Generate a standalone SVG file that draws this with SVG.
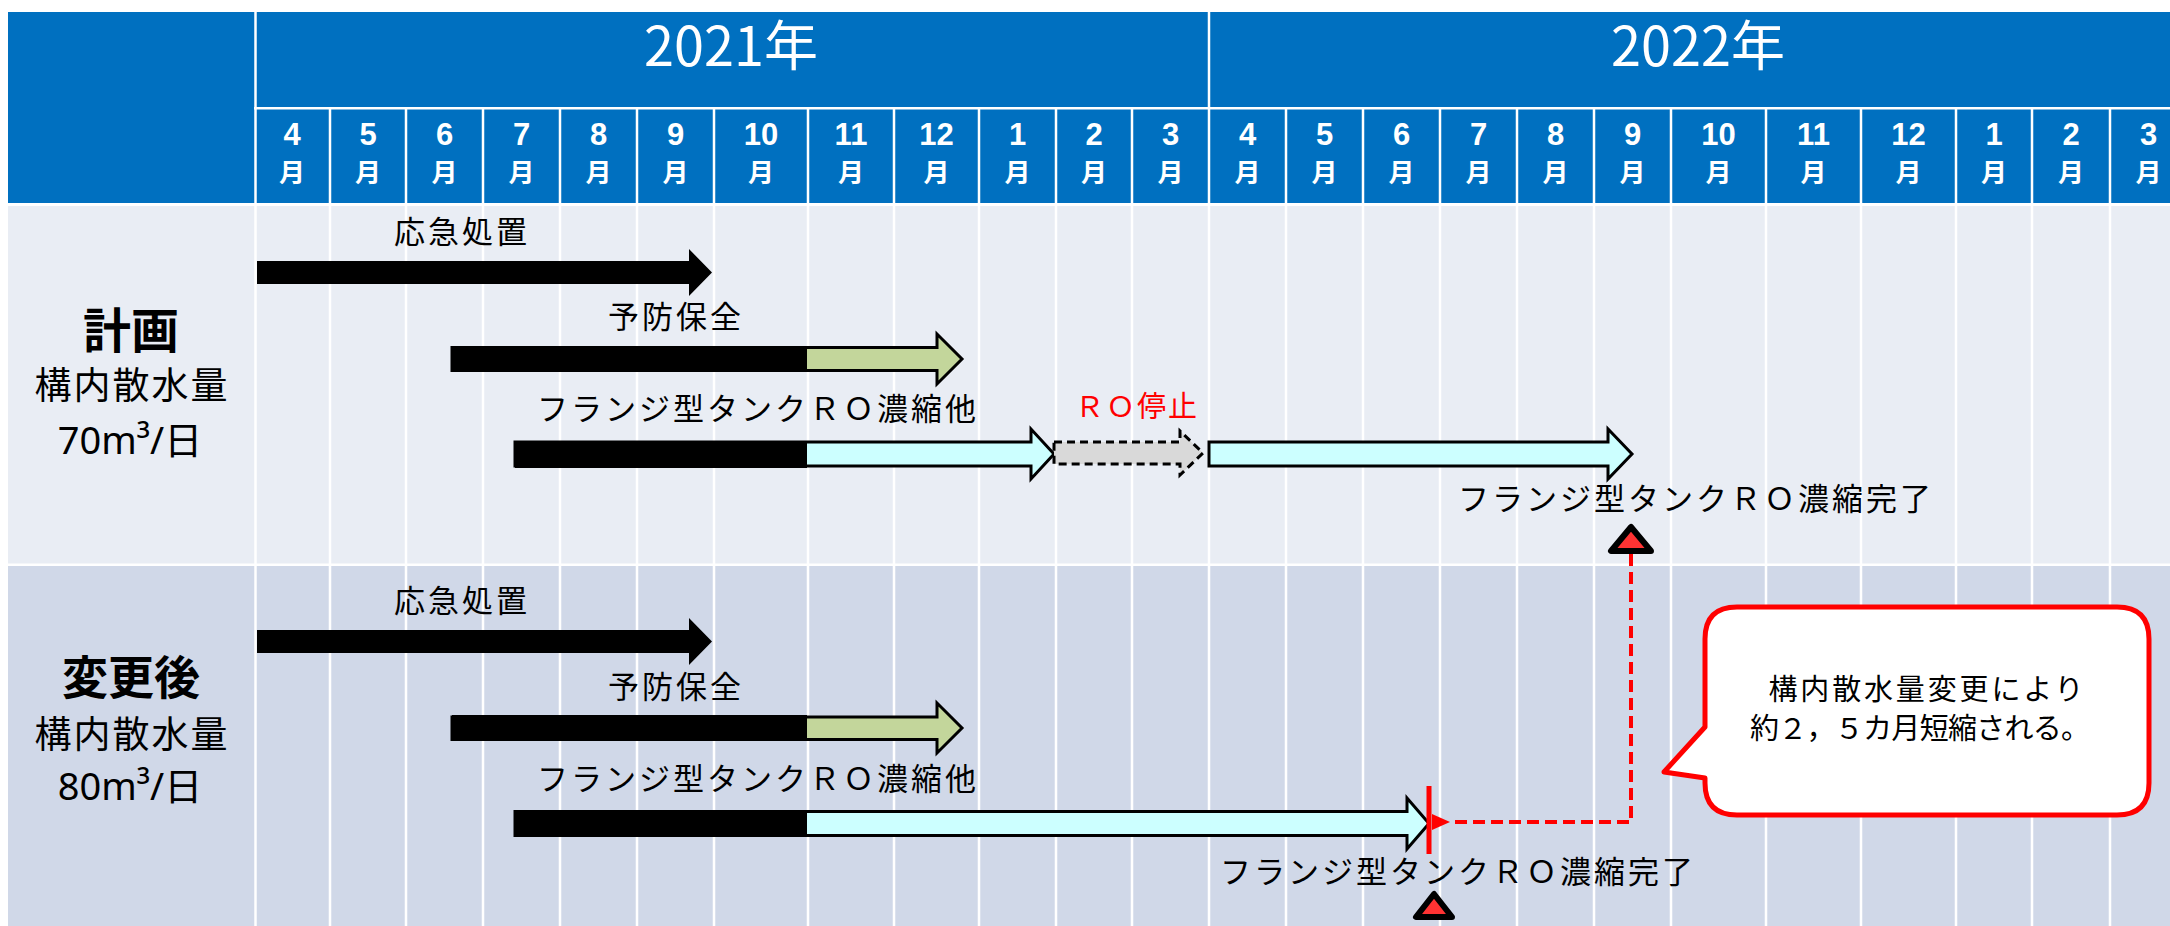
<svg xmlns="http://www.w3.org/2000/svg" width="2170" height="926" viewBox="0 0 2170 926">
<defs>
<style>
text{font-family:"Noto Sans CJK JP","Noto Sans",sans-serif;}
.yr{fill:#fff;font-size:54px;text-anchor:middle;}
.mn{fill:#fff;font-family:"Liberation Sans","DejaVu Sans",sans-serif;font-size:31px;font-weight:bold;text-anchor:middle;}
.mj{fill:#fff;font-size:26px;font-weight:bold;text-anchor:middle;}
.grid line{stroke:#fff;stroke-width:2.5;}
.ttl{font-size:48px;font-weight:bold;text-anchor:middle;fill:#000;}
.sub{font-size:37px;text-anchor:middle;fill:#000;letter-spacing:2px;}
.num{font-size:38px;text-anchor:middle;fill:#000;}
.lat{font-family:"Noto Sans",sans-serif;}
.lbl{font-size:31px;text-anchor:middle;fill:#000;letter-spacing:3px;}
.red{font-size:29px;text-anchor:middle;fill:#FF0000;letter-spacing:2px;}
.co{font-size:29px;text-anchor:middle;fill:#000;}
.blk{fill:#000;}
.grn{fill:#C3D69B;stroke:#000;stroke-width:3;stroke-linejoin:miter;}
.cyn{fill:#CCFFFF;stroke:#000;stroke-width:3;stroke-linejoin:miter;}
.gry{fill:#D9D9D9;stroke:#000;stroke-width:3;stroke-dasharray:8 5;}
.tri{fill:#FF3333;stroke:#000;stroke-width:6;stroke-linejoin:round;}
</style>
<marker id="ah" markerUnits="userSpaceOnUse" markerWidth="20" markerHeight="18" refX="0" refY="8" orient="auto-start-reverse" viewBox="0 0 20 16">
<path d="M0,8 L18,0 L18,16 Z" fill="#FF0000"/>
</marker>
</defs>

<rect x="0" y="0" width="2170" height="926" fill="#fff"/>

<g id="header">
<rect x="8" y="12" width="2162" height="191" fill="#0070C0"/>
<rect x="254" y="107" width="1916" height="2.5" fill="#fff"/>
<g class="grid">
<line x1="255.5" y1="12" x2="255.5" y2="203"/>
<line x1="1209" y1="12" x2="1209" y2="203"/>
<line x1="330" y1="109" x2="330" y2="203"/>
<line x1="406" y1="109" x2="406" y2="203"/>
<line x1="483" y1="109" x2="483" y2="203"/>
<line x1="560" y1="109" x2="560" y2="203"/>
<line x1="637" y1="109" x2="637" y2="203"/>
<line x1="714" y1="109" x2="714" y2="203"/>
<line x1="808" y1="109" x2="808" y2="203"/>
<line x1="894" y1="109" x2="894" y2="203"/>
<line x1="979" y1="109" x2="979" y2="203"/>
<line x1="1056" y1="109" x2="1056" y2="203"/>
<line x1="1132" y1="109" x2="1132" y2="203"/>
<line x1="1286" y1="109" x2="1286" y2="203"/>
<line x1="1363" y1="109" x2="1363" y2="203"/>
<line x1="1440" y1="109" x2="1440" y2="203"/>
<line x1="1517" y1="109" x2="1517" y2="203"/>
<line x1="1594" y1="109" x2="1594" y2="203"/>
<line x1="1671" y1="109" x2="1671" y2="203"/>
<line x1="1766" y1="109" x2="1766" y2="203"/>
<line x1="1861" y1="109" x2="1861" y2="203"/>
<line x1="1956" y1="109" x2="1956" y2="203"/>
<line x1="2032" y1="109" x2="2032" y2="203"/>
<line x1="2110" y1="109" x2="2110" y2="203"/>
</g>
<text class="yr" x="731" y="66">2021年</text>
<text class="yr" x="1698" y="66">2022年</text>
<g id="months-num">
<text class="mn" x="292" y="145">4</text>
<text class="mn" x="368" y="145">5</text>
<text class="mn" x="444.5" y="145">6</text>
<text class="mn" x="521.5" y="145">7</text>
<text class="mn" x="598.5" y="145">8</text>
<text class="mn" x="675.5" y="145">9</text>
<text class="mn" x="761" y="145">10</text>
<text class="mn" x="851" y="145">11</text>
<text class="mn" x="936.5" y="145">12</text>
<text class="mn" x="1017.5" y="145">1</text>
<text class="mn" x="1094" y="145">2</text>
<text class="mn" x="1170.5" y="145">3</text>
<text class="mn" x="1247.5" y="145">4</text>
<text class="mn" x="1324.5" y="145">5</text>
<text class="mn" x="1401.5" y="145">6</text>
<text class="mn" x="1478.5" y="145">7</text>
<text class="mn" x="1555.5" y="145">8</text>
<text class="mn" x="1632.5" y="145">9</text>
<text class="mn" x="1718.5" y="145">10</text>
<text class="mn" x="1813.5" y="145">11</text>
<text class="mn" x="1908.5" y="145">12</text>
<text class="mn" x="1994" y="145">1</text>
<text class="mn" x="2071" y="145">2</text>
<text class="mn" x="2148.5" y="145">3</text>
</g>
<g id="months-kanji">
<text class="mj" x="292" y="182">月</text>
<text class="mj" x="368" y="182">月</text>
<text class="mj" x="444.5" y="182">月</text>
<text class="mj" x="521.5" y="182">月</text>
<text class="mj" x="598.5" y="182">月</text>
<text class="mj" x="675.5" y="182">月</text>
<text class="mj" x="761" y="182">月</text>
<text class="mj" x="851" y="182">月</text>
<text class="mj" x="936.5" y="182">月</text>
<text class="mj" x="1017.5" y="182">月</text>
<text class="mj" x="1094" y="182">月</text>
<text class="mj" x="1170.5" y="182">月</text>
<text class="mj" x="1247.5" y="182">月</text>
<text class="mj" x="1324.5" y="182">月</text>
<text class="mj" x="1401.5" y="182">月</text>
<text class="mj" x="1478.5" y="182">月</text>
<text class="mj" x="1555.5" y="182">月</text>
<text class="mj" x="1632.5" y="182">月</text>
<text class="mj" x="1718.5" y="182">月</text>
<text class="mj" x="1813.5" y="182">月</text>
<text class="mj" x="1908.5" y="182">月</text>
<text class="mj" x="1994" y="182">月</text>
<text class="mj" x="2071" y="182">月</text>
<text class="mj" x="2148.5" y="182">月</text>
</g>
</g>

<g id="body-grid">
<rect x="8" y="206" width="2162" height="357.5" fill="#E9EDF4"/>
<rect x="8" y="566" width="2162" height="360" fill="#D0D8E8"/>
<g class="grid">
<line x1="255.5" y1="203" x2="255.5" y2="926"/>
<line x1="330" y1="203" x2="330" y2="926"/>
<line x1="406" y1="203" x2="406" y2="926"/>
<line x1="483" y1="203" x2="483" y2="926"/>
<line x1="560" y1="203" x2="560" y2="926"/>
<line x1="637" y1="203" x2="637" y2="926"/>
<line x1="714" y1="203" x2="714" y2="926"/>
<line x1="808" y1="203" x2="808" y2="926"/>
<line x1="894" y1="203" x2="894" y2="926"/>
<line x1="979" y1="203" x2="979" y2="926"/>
<line x1="1056" y1="203" x2="1056" y2="926"/>
<line x1="1132" y1="203" x2="1132" y2="926"/>
<line x1="1209" y1="203" x2="1209" y2="926"/>
<line x1="1286" y1="203" x2="1286" y2="926"/>
<line x1="1363" y1="203" x2="1363" y2="926"/>
<line x1="1440" y1="203" x2="1440" y2="926"/>
<line x1="1517" y1="203" x2="1517" y2="926"/>
<line x1="1594" y1="203" x2="1594" y2="926"/>
<line x1="1671" y1="203" x2="1671" y2="926"/>
<line x1="1766" y1="203" x2="1766" y2="926"/>
<line x1="1861" y1="203" x2="1861" y2="926"/>
<line x1="1956" y1="203" x2="1956" y2="926"/>
<line x1="2032" y1="203" x2="2032" y2="926"/>
<line x1="2110" y1="203" x2="2110" y2="926"/>
</g>
</g>

<g id="label-plan">
<text class="ttl" x="131" y="348">計画</text>
<text class="sub" x="132" y="399">構内散水量</text>
<text class="num" x="130" y="454"><tspan class="lat">70m³/</tspan>日</text>
</g>
<g id="label-after">
<text class="ttl" x="131" y="694" style="font-size:46px">変更後</text>
<text class="sub" x="132" y="748">構内散水量</text>
<text class="num" x="130" y="800"><tspan class="lat">80m³/</tspan>日</text>
</g>

<g id="plan-emergency">
<path class="blk" d="M257,261 H689 V249 L712,272.5 L689,296 V284 H257 Z"/>
<text class="lbl" x="462" y="243">応急処置</text>
</g>
<g id="plan-preventive">
<path class="grn" d="M452,347.5 H937 V334 L962,359 L937,384 V370.5 H452 Z"/>
<rect class="blk" x="452" y="346" width="355" height="26"/>
<text class="lbl" x="676" y="328">予防保全</text>
</g>
<g id="plan-ro">
<path class="cyn" d="M515,442 H1031 V429 L1054,454 L1031,479 V466 H515 Z"/>
<rect class="blk" x="515" y="441" width="292" height="27"/>
<text class="lbl" x="758" y="420">フランジ型タンクＲＯ濃縮他</text>
</g>
<g id="plan-ro-stop">
<path class="gry" d="M1054,442 H1180 V431 L1203,453 L1180,475 V464 H1054 Z"/>
<text class="red" x="1137" y="417">ＲＯ停止</text>
</g>
<g id="plan-ro2">
<path class="cyn" d="M1209,442 H1608 V429 L1632,454 L1608,479 V466 H1209 Z"/>
<text class="lbl" x="1696" y="510">フランジ型タンクＲＯ濃縮完了</text>
</g>
<g id="plan-milestone">
<path class="tri" d="M1631,527 L1611,551 L1651,551 Z"/>
</g>

<g id="after-emergency">
<path class="blk" d="M257,630 H689 V618 L712,641.5 L689,665 V653 H257 Z"/>
<text class="lbl" x="462" y="612">応急処置</text>
</g>
<g id="after-preventive">
<path class="grn" d="M452,717 H937 V703 L962,728 L937,753 V739.5 H452 Z"/>
<rect class="blk" x="452" y="715" width="355" height="26"/>
<text class="lbl" x="676" y="698">予防保全</text>
</g>
<g id="after-ro">
<path class="cyn" d="M515,811.5 H1407 V798 L1429,823.5 L1407,849 V835.5 H515 Z"/>
<rect class="blk" x="515" y="810" width="292" height="27"/>
<text class="lbl" x="758" y="790">フランジ型タンクＲＯ濃縮他</text>
<text class="lbl" x="1458" y="883">フランジ型タンクＲＯ濃縮完了</text>
</g>
<g id="after-milestone">
<line x1="1429" y1="786" x2="1429" y2="854" stroke="#FF0000" stroke-width="5"/>
<path class="tri" d="M1434,894 L1416,917 L1452,917 Z"/>
</g>

<g id="connectors">
<path d="M1631,554 V822 H1450" fill="none" stroke="#FF0000" stroke-width="4" stroke-dasharray="12 6" marker-end="url(#ah)"/>
</g>

<g id="callout">
<path d="M1737,607 H2117 Q2149,607 2149,639 V783 Q2149,815 2117,815 H1737 Q1705,815 1705,783 V778 L1664,772 L1705,727 V639 Q1705,607 1737,607 Z" fill="#fff" stroke="#FF0000" stroke-width="5" stroke-linejoin="round"/>
<text class="co" x="1926" y="700" textLength="315" lengthAdjust="spacing">構内散水量変更により</text>
<text class="co" x="1920" y="739" textLength="340" lengthAdjust="spacing">約２，５カ月短縮される。</text>
</g>
</svg>
